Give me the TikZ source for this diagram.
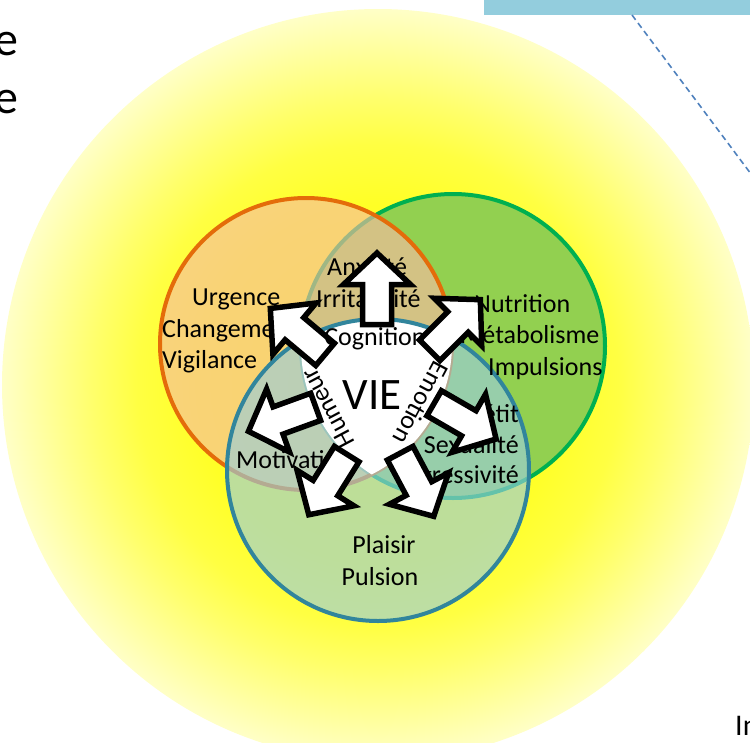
\documentclass[tikz,border=0pt]{standalone}
\usepackage{fontspec}
\setmainfont{Carlito}
\definecolor{gfill}{RGB}{146,208,80}
\definecolor{gedge}{RGB}{0,176,80}
\definecolor{ofill}{RGB}{246,188,160}
\definecolor{oedge}{RGB}{228,108,10}
\definecolor{bfill}{RGB}{155,205,219}
\definecolor{bedge}{RGB}{49,133,156}
\definecolor{boxblue}{RGB}{147,205,221}
\definecolor{dashblue}{RGB}{79,129,189}
\pgfdeclareradialshading{sunglow}{\pgfpoint{0bp}{0bp}}{rgb(0bp)=(1,1,0.05); rgb(12bp)=(1,1,0.15); rgb(16bp)=(1,1,0.26); rgb(19bp)=(1,1,0.42); rgb(22bp)=(1,1,0.6); rgb(25bp)=(1,1,0.78); rgb(50bp)=(1,1,0.78)}
\begin{document}
\begin{tikzpicture}[x=1pt,y=-1pt,
  lbl/.style={font=\fontsize{26}{31}\selectfont, inner sep=0pt, text=black},
  bigtxt/.style={font=\fontsize{48}{58}\selectfont, inner sep=0pt, text=black},
  ring/.style={line width=4},
  blockarr/.pic={\draw[line width=5.5, fill=white, draw=black, miter limit=10]
     (2.5,-14.5) -- (42.5,-14.5) -- (42.5,-33.5) -- (74,0) -- (42.5,33.5) -- (42.5,14.5) -- (2.5,14.5) -- cycle;}
]
\useasboundingbox (0,0) rectangle (750,742);
\clip (0,0) rectangle (750,742);

% background glow
\coordinate (sun) at (378,385);
\shade[shading=sunglow] (sun) circle[radius=376];

% circle centres
\coordinate (gc) at (453,346);
\coordinate (oc) at (306,344);
\coordinate (bc) at (378,470);

% green circle
\fill[gfill] (gc) circle[radius=152];
\draw[gedge, ring] (gc) circle[radius=152];
% orange circle
\fill[ofill, fill opacity=0.65] (oc) circle[radius=146];
\draw[oedge, ring] (oc) circle[radius=146];
% blue circle
\fill[bfill, fill opacity=0.65] (bc) circle[radius=151];
% white triple intersection
\begin{scope}
  \clip (oc) circle[radius=146];
  \clip (bc) circle[radius=151];
  \fill[white] (gc) circle[radius=152];
\end{scope}
\draw[bedge, ring] (bc) circle[radius=151];

% top box and dashed line
\node[fill=boxblue, inner sep=0pt, minimum width=266, minimum height=15, anchor=north west] (topbox) at (484,0) {};
\coordinate (dstart) at (632,15);
\coordinate (dend) at (766,194);
\draw[dashblue, line width=1.6, dash pattern=on 6pt off 4pt] (dstart) -- (dend);

% cut-off texts
\node[bigtxt, anchor=base east] (e1) at (19,55) {e};
\node[bigtxt, anchor=base east] (e2) at (19,113) {e};
\node[font=\fontsize{30}{36}\selectfont, inner sep=0pt, anchor=base west] (inn) at (735,735) {In};

% orange labels
\node[lbl, anchor=base west] (urg) at (192,305) {Urgence};
\node[lbl, anchor=base west] (chg) at (162,337) {Changement};
\node[lbl, anchor=base west] (vig) at (162,368) {Vigilance};
% tan labels
\node[lbl, anchor=base west] (anx) at (327,275) {Anxiété};
\node[lbl, anchor=base west] (irr) at (316,307) {Irritabilité};
% green labels
\node[lbl, anchor=base west] (nut) at (474,312) {Nutrition};
\node[lbl, anchor=base west] (met) at (460,343) {Métabolisme};
\node[lbl, anchor=base west] (imp) at (488,375) {Impulsions};
% teal labels
\node[lbl, anchor=base east] (app) at (519,422) {Appétit};
\node[lbl, anchor=base east] (sex) at (519,453) {Sexualité};
\node[lbl, anchor=base east] (agr) at (519,483) {Agressivité};
% blue labels
\node[lbl, anchor=base west] (mot) at (236,468) {Motivation};
\node[lbl, anchor=base] (pla) at (384,553) {Plaisir};
\node[lbl, anchor=base] (pul) at (380,585) {Pulsion};

% block arrows
\pic[rotate=90] at (377,327) {blockarr};
\pic[rotate=140] at (327,356) {blockarr};
\pic[rotate=45] at (428,352) {blockarr};
\pic[rotate=-30] at (432,402) {blockarr};
\pic[rotate=-62] at (399,451) {blockarr};
\pic[rotate=-122] at (348,452) {blockarr};
\pic[rotate=-160] at (318,406) {blockarr};

% centre texts
\node[lbl, anchor=base] (cog) at (375,345) {Cognition};
\node[font=\fontsize{45}{54}\selectfont, inner sep=0pt, anchor=base] (vie) at (372,409) {VIE};
\node[lbl, rotate=-118] (emo) at (421,403) {Emotion};
\node[lbl, rotate=118] (hum) at (328,408) {Humeur};
\end{tikzpicture}
\end{document}
